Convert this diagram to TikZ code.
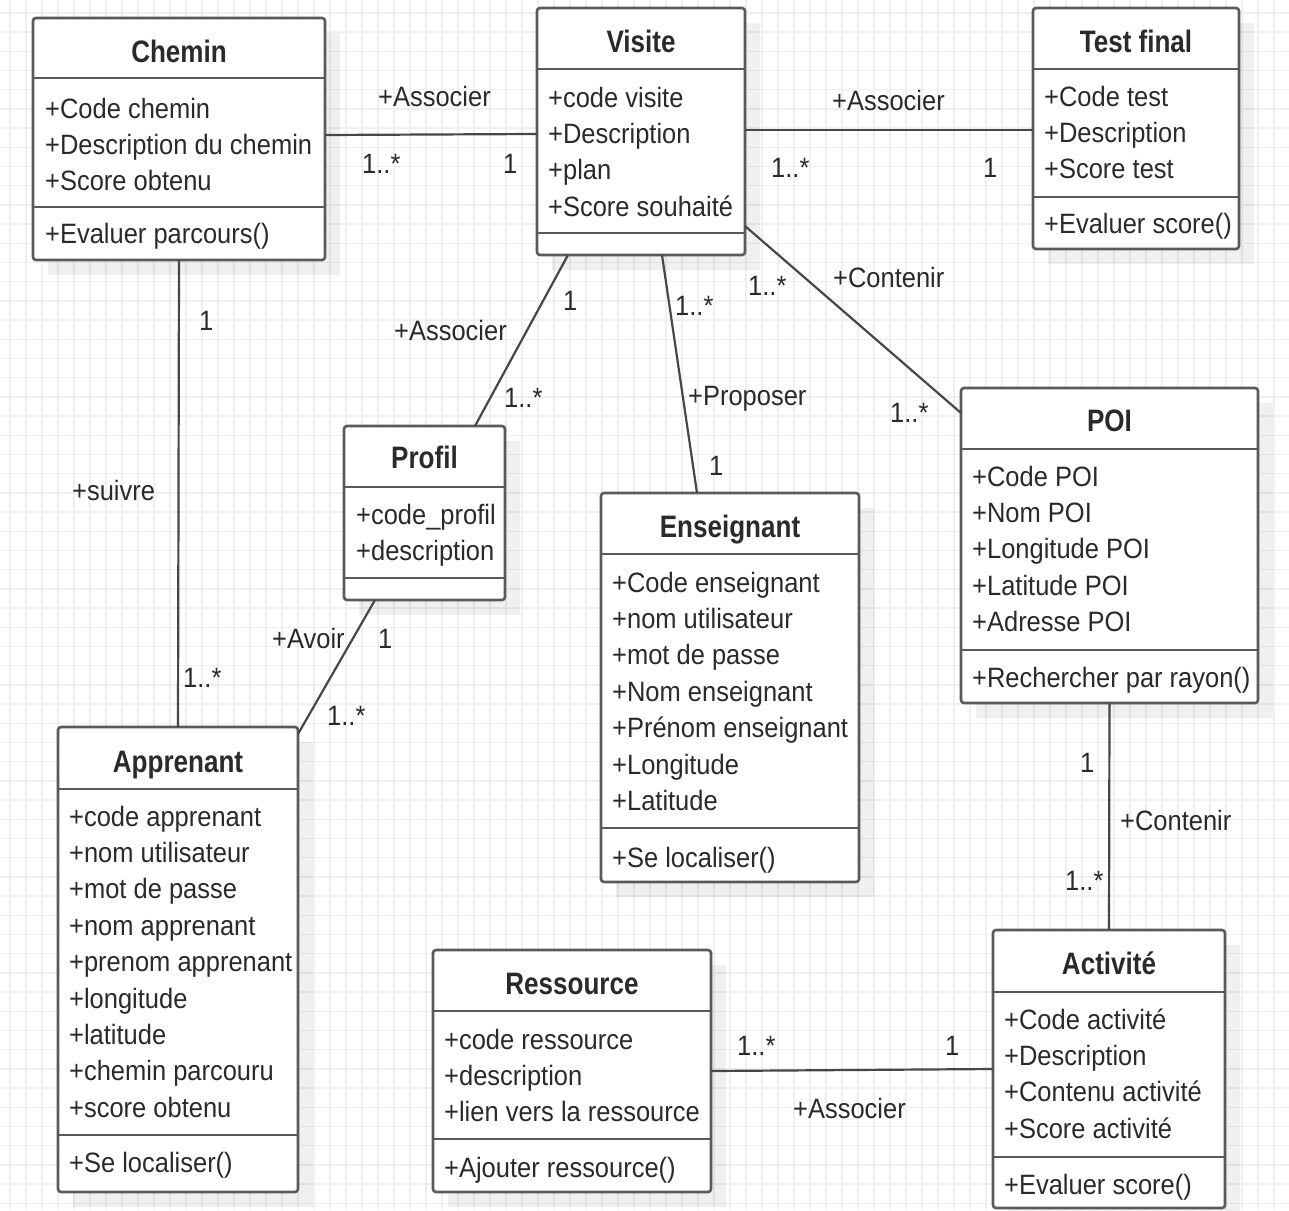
\documentclass[tikz,border=0pt]{standalone}
\usepackage{fontspec}
\setmainfont{Liberation Sans}[FakeStretch=0.91]
\newfontfamily\titlefont{Liberation Sans}[FakeStretch=0.84]
\usetikzlibrary{calc}
\definecolor{boxline}{HTML}{5A5A5A}
\definecolor{conn}{HTML}{474747}
\definecolor{gridc}{HTML}{EFEFEF}
\definecolor{txt}{HTML}{2A2A2A}
\tikzset{
  classnode/.style={rectangle, draw=boxline, line width=2.6pt, fill=white, rounded corners=3pt, inner sep=0pt, outer sep=0pt},
  sepline/.style={draw=boxline, line width=2.6pt},
  attr/.style={anchor=base west, inner sep=0pt, text=txt, font=\fontsize{28}{34}\selectfont},
  ctitle/.style={anchor=base, inner sep=0pt, text=txt, font=\titlefont\bfseries\fontsize{31}{36}\selectfont},
  assoc/.style={draw=conn, line width=2.2pt},
  mult/.style={attr},
  shadowbox/.style={fill=black, fill opacity=0.06},
  gridline/.style={draw=gridc, line width=1.5pt},
}
% #1 name, #2 x1, #3 y1, #4 x2, #5 y2, #6 title, #7 title baseline, #8 sep1, #9 sep2
\newcommand\umlclass[9]{%
  \fill[shadowbox] (#2+15,#3+15) rectangle (#4+15,#5+15);
  \node[classnode, anchor=north west, minimum width={#4-#2}, minimum height={#5-#3}] (#1) at (#2,#3) {};
  \node[ctitle] (#1-title) at ({(#2+#4)/2},#7) {#6};
  \draw[sepline] (#1.west |- 0,#8) -- (#1.east |- 0,#8);
  \draw[sepline] (#1.west |- 0,#9) -- (#1.east |- 0,#9);
}
% #1 name, #2 x, #3 first baseline, #4 list
\newcommand\umlattrs[4]{%
  \foreach \t [count=\i] in {#4} {\node[attr] (#1-a\i) at (#2,{#3+36.4*(\i-1)}) {\t};}
}
\begin{document}
\begin{tikzpicture}[x=1pt,y=-1pt]
\useasboundingbox (0,0) rectangle (1289,1210);
\fill[white] (0,0) rectangle (1289,1210);
\foreach \gx in {0,...,79} {\draw[gridline] ({10+16*\gx},0) -- ({10+16*\gx},1210);}
\foreach \gy in {0,...,62} {\draw[gridline] (0,{12.9+19.2*\gy}) -- (1289,{12.9+19.2*\gy});}

% Chemin
\umlclass{chemin}{33}{18}{325}{260}{Chemin}{62}{78}{207}
\umlattrs{chemin}{45}{118}{+Code chemin,+Description du chemin,+Score obtenu}
\node[attr] (chemin-m1) at (45,243) {+Evaluer parcours()};

% Visite
\umlclass{visite}{537}{8}{745}{255}{Visite}{52}{69}{233}
\umlattrs{visite}{548}{107}{+code visite,+Description,+plan,+Score souhaité}

% Test final
\umlclass{testfinal}{1033}{8}{1239}{249}{Test final}{52}{69}{197}
\umlattrs{testfinal}{1044}{106}{+Code test,+Description,+Score test}
\node[attr] (testfinal-m1) at (1044,233) {+Evaluer score()};

% Profil
\umlclass{profil}{344}{426}{505}{600}{Profil}{468}{487}{578}
\umlattrs{profil}{356}{524}{+code\_profil,+description}

% Enseignant
\umlclass{enseignant}{601}{493}{859}{882}{Enseignant}{537}{554}{828}
\umlattrs{enseignant}{612}{592}{+Code enseignant,+nom utilisateur,+mot de passe,+Nom enseignant,+Prénom enseignant,+Longitude,+Latitude}
\node[attr] (enseignant-m1) at (612,867) {+Se localiser()};

% POI
\umlclass{poi}{961}{388}{1258}{703}{POI}{431}{449}{650}
\umlattrs{poi}{972}{486}{+Code POI,+Nom POI,+Longitude POI,+Latitude POI,+Adresse POI}
\node[attr] (poi-m1) at (972,687) {+Rechercher par rayon()};

% Apprenant
\umlclass{apprenant}{58}{727}{298}{1192}{Apprenant}{772}{789}{1135}
\umlattrs{apprenant}{69}{826}{+code apprenant,+nom utilisateur,+mot de passe,+nom apprenant,+prenom apprenant,+longitude,+latitude,+chemin parcouru,+score obtenu}
\node[attr] (apprenant-m1) at (69,1172) {+Se localiser()};

% Ressource
\umlclass{ressource}{433}{950}{711}{1192}{Ressource}{994}{1011}{1139}
\umlattrs{ressource}{444}{1049}{+code ressource,+description,+lien vers la ressource}
\node[attr] (ressource-m1) at (444,1177) {+Ajouter ressource()};

% Activite
\umlclass{activite}{993}{930}{1225}{1208}{Activité}{974}{992}{1157}
\umlattrs{activite}{1004}{1029}{+Code activité,+Description,+Contenu activité,+Score activité}
\node[attr] (activite-m1) at (1004,1194) {+Evaluer score()};

% Connectors
\draw[assoc] ([yshift=4pt]chemin.east) -- ([yshift=-2.5pt]visite.west);
\draw[assoc] ([yshift=1.5pt]visite.east) -- ([yshift=-1.5pt]testfinal.west);
\draw[assoc] ([yshift=29pt]visite.south east) -- ([yshift=-25pt]poi.north west);
\draw[assoc] ([xshift=21pt]visite.south) -- ([xshift=-33pt]enseignant.north);
\draw[assoc] ([xshift=-73pt]visite.south) -- ([xshift=50.5pt]profil.north);
\draw[assoc] (chemin.south) -- (apprenant.north);
\draw[assoc] ([xshift=-49.5pt]profil.south) -- ([yshift=-7pt]apprenant.north east);
\draw[assoc] (poi.south) -- (activite.north);
\draw[assoc] (ressource.east) -- (activite.west);

% Labels
\node[mult] (l1a) at (378,106) {+Associer};
\node[mult] (l1b) at (362,173) {1..*};
\node[mult] (l1c) at (503,173) {1};
\node[mult] (l2a) at (832,110) {+Associer};
\node[mult] (l2b) at (771,177) {1..*};
\node[mult] (l2c) at (983,177) {1};
\node[mult] (l3a) at (833,287) {+Contenir};
\node[mult] (l3b) at (748,295) {1..*};
\node[mult] (l3c) at (890,422) {1..*};
\node[mult] (l4a) at (675,315) {1..*};
\node[mult] (l4b) at (688,405) {+Proposer};
\node[mult] (l4c) at (709,475) {1};
\node[mult] (l5a) at (563,310) {1};
\node[mult] (l5b) at (394,340) {+Associer};
\node[mult] (l5c) at (504,407) {1..*};
\node[mult] (l6a) at (199,330) {1};
\node[mult] (l6b) at (72,500) {+suivre};
\node[mult] (l6c) at (183,687) {1..*};
\node[mult] (l7a) at (272,648) {+Avoir};
\node[mult] (l7b) at (378,648) {1};
\node[mult] (l7c) at (327,725) {1..*};
\node[mult] (l8a) at (1080,772) {1};
\node[mult] (l8b) at (1120,830) {+Contenir};
\node[mult] (l8c) at (1065,890) {1..*};
\node[mult] (l9a) at (737,1055) {1..*};
\node[mult] (l9b) at (945,1055) {1};
\node[mult] (l9c) at (793,1118) {+Associer};
\end{tikzpicture}
\end{document}
